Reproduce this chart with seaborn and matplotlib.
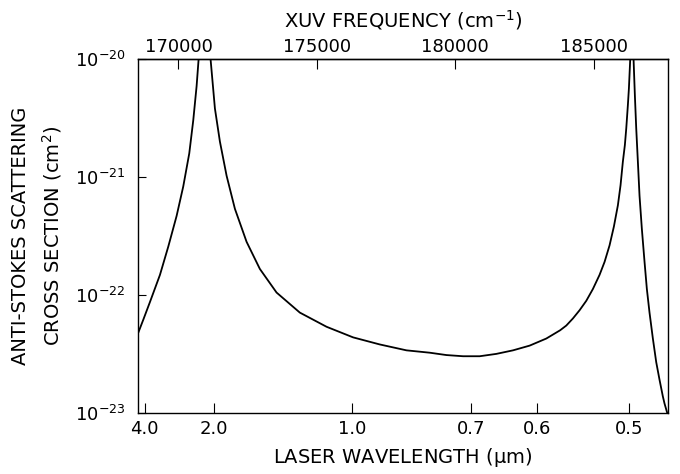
import matplotlib
matplotlib.use("Agg")
import matplotlib.pyplot as plt
import numpy as np
import pandas as pd
import seaborn as sns

# XUV frequency (cm^-1) and log10 of the anti-Stokes cross section (cm^2)
xuv_freq = [168549, 168730, 168971, 169332, 169633, 169934, 170174, 170391, 170535,
            170656, 170729, 170940, 171160, 171318, 171498, 171740, 172040, 172462,
            172942, 173545, 174386, 175350, 176310, 177274, 178238, 179079, 179682,
            180283, 180885, 181487, 182089, 182689, 183291, 183790, 184013, 184252,
            184494, 184736, 184975, 185216, 185397, 185577, 185734, 185878, 185974,
            186058, 186130, 186180, 186239, 186276, 186324, 186384, 186444, 186492,
            186541, 186600, 186660, 186744, 186841, 186925, 187021, 187142, 187263,
            187383, 187502, 187562, 187660]
log_sigma = [-22.32, -22.21, -22.06, -21.83, -21.59, -21.33, -21.08, -20.80, -20.52,
             -20.23, -20.00, -19.80, -20.00, -20.42, -20.70, -20.99, -21.27, -21.55,
             -21.78, -21.98, -22.15, -22.27, -22.36, -22.42, -22.47, -22.49, -22.51,
             -22.52, -22.52, -22.50, -22.47, -22.43, -22.37, -22.30, -22.26, -22.20,
             -22.13, -22.05, -21.95, -21.83, -21.72, -21.58, -21.42, -21.24, -21.07,
             -20.87, -20.73, -20.59, -20.39, -20.25, -20.00, -19.80, -20.00, -20.31,
             -20.59, -20.87, -21.16, -21.44, -21.72, -21.95, -22.15, -22.37, -22.57,
             -22.72, -22.86, -22.92, -23.00]

# axis ticks
wavelength_ticks = [4.0, 2.0, 1.0, 0.7, 0.6, 0.5]          # laser wavelength, um
wavelength_labels = ["4.0", "2.0", "1.0", "0.7", "0.6", "0.5"]
freq_ticks = [170000, 175000, 180000, 185000]                # XUV frequency, cm^-1
storage_level = 166277   # He 2 1S level, cm^-1 (XUV = storage + laser)

df = pd.DataFrame({"freq": xuv_freq, "sigma": 10.0 ** np.array(log_sigma)})

sns.set_theme(style="ticks")
plt.rcParams["font.family"] = ["DejaVu Sans"]
plt.rcParams["mathtext.default"] = "regular"
plt.rcParams["xtick.direction"] = "in"
plt.rcParams["ytick.direction"] = "in"
plt.rcParams["text.color"] = "black"
plt.rcParams["axes.labelcolor"] = "black"
plt.rcParams["xtick.color"] = "black"
plt.rcParams["ytick.color"] = "black"

fig = plt.figure(figsize=(6.8, 4.74), dpi=100)
ax = fig.add_axes([0.203, 0.129, 0.779, 0.7465])

sns.lineplot(data=df, x="freq", y="sigma", color="black", linewidth=1.3, ax=ax)

ax.set_yscale("log")
ax.set_ylim(1e-23, 1e-20)
ax.set_xlim(168540, 187680)
ax.set_yticks([1e-23, 1e-22, 1e-21, 1e-20])
ax.set_yticklabels(["$10^{-23}$", "$10^{-22}$", "$10^{-21}$", "$10^{-20}$"], fontsize=13)
ax.minorticks_off()
ax.tick_params(axis="y", length=6, width=0.8, pad=9, right=False)

# bottom axis: laser wavelength
bottom_pos = [storage_level + 1e4 / w for w in wavelength_ticks]
ax.set_xticks(bottom_pos)
ax.set_xticklabels(wavelength_labels, fontsize=13)
ax.tick_params(axis="x", length=7, width=0.8, pad=5, top=False)
ax.set_xlabel("LASER WAVELENGTH ($\\mu$m)", fontsize=14, labelpad=6)
ax.set_ylabel("ANTI-STOKES SCATTERING\nCROSS SECTION (cm$^2$)", fontsize=14,
              labelpad=8, linespacing=1.5)

# top axis: XUV frequency
top = ax.secondary_xaxis("top")
top.set_xticks(freq_ticks)
top.set_xticklabels([str(f) for f in freq_ticks], fontsize=13)
top.tick_params(axis="x", direction="in", length=7, width=0.8, pad=2)
top.set_xlabel("XUV FREQUENCY (cm$^{-1}$)", fontsize=14, labelpad=8)

for s in ax.spines.values():
    s.set_linewidth(1.0)
    s.set_color("black")
top.spines["top"].set_linewidth(1.0)

fig.savefig("out.png", dpi=100)
